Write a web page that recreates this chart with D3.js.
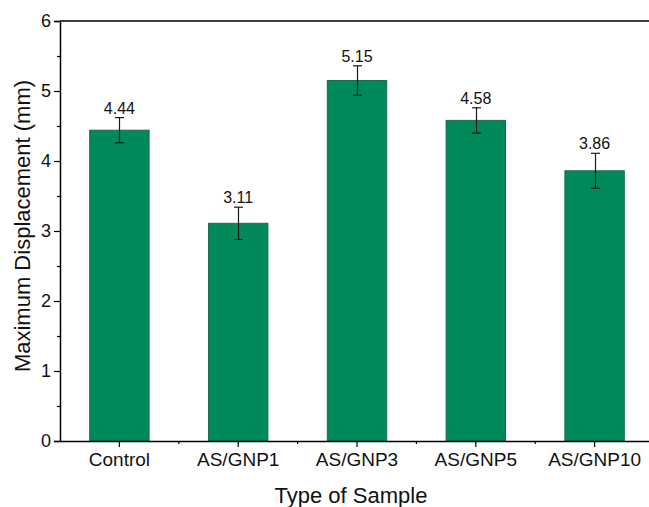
<!DOCTYPE html>
<html>
<head>
<meta charset="utf-8">
<script src="https://cdn.jsdelivr.net/npm/d3@7"></script>
<style>
  html, body { margin: 0; padding: 0; background: #fff; }
  svg { display: block; font-family: "Liberation Sans", Arial, sans-serif; }
</style>
</head>
<body>
<svg id="chart" width="649" height="507"></svg>
<script>
// Samples and measured maximum displacement (mm) with standard deviation
const categories = ["Control", "AS/GNP1", "AS/GNP3", "AS/GNP5", "AS/GNP10"];
const displacement = [4.44, 3.11, 5.15, 4.58, 3.86];
const errors = [0.18, 0.23, 0.21, 0.18, 0.25];
const yTicks = [0, 1, 2, 3, 4, 5, 6];

const svg = d3.select("#chart");
const margin = { left: 60, top: 21, right: -5, bottom: 66 };
const W = 649, H = 507;
const x0 = margin.left, x1 = W - margin.right;
const yTop = margin.top, yBottom = H - margin.bottom;

const x = d3.scaleBand().domain(categories).range([x0, x1]).paddingInner(0.5).paddingOuter(0.25);
const y = d3.scaleLinear().domain([0, 6]).range([yBottom, yTop]);

const data = categories.map((c, i) => ({ c, v: displacement[i], e: errors[i] }));

// bars
svg.append("g").selectAll("rect").data(data).join("rect")
  .attr("x", d => x(d.c))
  .attr("y", d => y(d.v))
  .attr("width", x.bandwidth())
  .attr("height", d => y(0) - y(d.v))
  .attr("fill", "#008A5C")
  .attr("stroke", "#1b6b4c")
  .attr("stroke-width", 1);

// error bars
const eb = svg.append("g").attr("stroke", "#1a1a1a").attr("stroke-width", 1.2);
data.forEach(d => {
  const cx = Math.round(x(d.c) + x.bandwidth() / 2) + 0.5;
  eb.append("line").attr("x1", cx).attr("x2", cx).attr("y1", y(d.v + d.e)).attr("y2", y(d.v - d.e));
  eb.append("line").attr("x1", cx - 4.5).attr("x2", cx + 4.5).attr("y1", y(d.v + d.e)).attr("y2", y(d.v + d.e));
  eb.append("line").attr("x1", cx - 4.5).attr("x2", cx + 4.5).attr("y1", y(d.v - d.e)).attr("y2", y(d.v - d.e));
});

// value labels
svg.append("g").selectAll("text").data(data).join("text")
  .attr("x", d => x(d.c) + x.bandwidth() / 2)
  .attr("y", d => y(d.v + d.e) - 4)
  .attr("text-anchor", "middle")
  .attr("font-size", 16)
  .attr("fill", "#111")
  .text(d => d.v.toFixed(2));

// top frame line
svg.append("line").attr("x1", x0).attr("x2", W).attr("y1", yTop).attr("y2", yTop)
  .attr("stroke", "#000").attr("stroke-width", 1.5);

// y axis with major and minor ticks
const yAxis = svg.append("g").attr("transform", `translate(${x0},0)`)
  .call(d3.axisLeft(y).tickValues(yTicks).tickFormat(d3.format("d")).tickSize(6).tickPadding(3));
svg.append("g").attr("transform", `translate(${x0},0)`)
  .call(d3.axisLeft(y).tickValues(yTicks.slice(0, -1).map(t => t + 0.5)).tickFormat("").tickSize(3))
  .call(g => g.select(".domain").remove());

// x axis with ticks at categories and minor ticks between them
const xAxis = svg.append("g").attr("transform", `translate(0,${yBottom})`)
  .call(d3.axisBottom(x).tickSize(6).tickPadding(6).tickSizeOuter(0));
const step = x.step();
const between = categories.map(c => x(c) + x.bandwidth() / 2 + step / 2).filter(v => v < W);
svg.append("g").selectAll("line").data(between).join("line")
  .attr("x1", d => d).attr("x2", d => d).attr("y1", yBottom).attr("y2", yBottom + 3)
  .attr("stroke", "#000").attr("stroke-width", 1.2);

svg.selectAll(".domain").attr("stroke", "#000").attr("stroke-width", 1.5);
svg.selectAll(".tick line").attr("stroke", "#000").attr("stroke-width", 1.2);
yAxis.selectAll("text").attr("font-size", 18).attr("fill", "#111");
xAxis.selectAll("text").attr("font-size", 19).attr("fill", "#111");
svg.selectAll("g").attr("font-family", null);

// axis titles
svg.append("text")
  .attr("transform", "translate(30,226) rotate(-90)")
  .attr("text-anchor", "middle")
  .attr("font-size", 22)
  .attr("fill", "#111")
  .text("Maximum Displacement (mm)");

svg.append("text")
  .attr("x", 351)
  .attr("y", 503)
  .attr("text-anchor", "middle")
  .attr("font-size", 22)
  .attr("fill", "#111")
  .text("Type of Sample");
</script>
</body>
</html>
